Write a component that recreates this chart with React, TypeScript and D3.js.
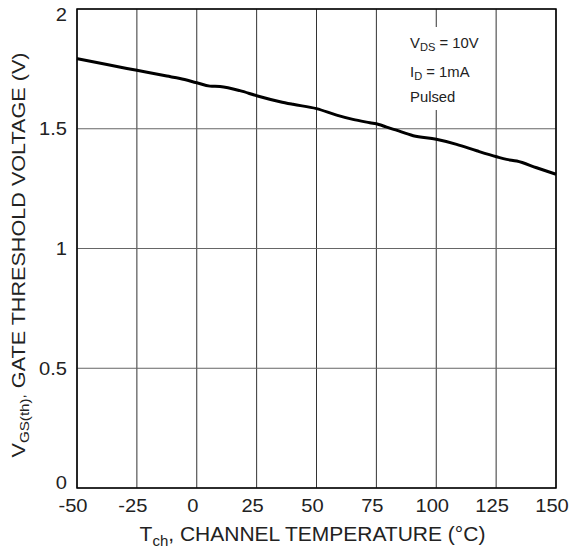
import React from "react";
import * as d3 from "d3";

const temps = [-50, -37.5, -25, -12.5, -7, 0, 5.5, 9.7, 18, 25, 34.8, 40.2, 50, 58.4, 65.2, 72.3, 76, 79, 83, 90.4, 100, 108.5, 116.9, 125.2, 129.4, 133.6, 141.9, 150];
const vth = [1.793, 1.768, 1.744, 1.72, 1.71, 1.692, 1.678, 1.676, 1.659, 1.638, 1.613, 1.602, 1.584, 1.557, 1.539, 1.525, 1.518, 1.508, 1.495, 1.471, 1.456, 1.435, 1.408, 1.383, 1.372, 1.365, 1.337, 1.31];
const xTicks = [-50, -25, 0, 25, 50, 75, 100, 125, 150];
const yTicks = [0, 0.5, 1, 1.5, 2];
const yTickLabels = ["0", "0.5", "1", "1.5", "2"];

const W = 573, H = 550;
const L = 77, R = 556, T = 9, B = 488;
const FONT = "'Liberation Sans', Arial, Helvetica, sans-serif";

export default function App() {
  const x = d3.scaleLinear().domain([-50, 150]).range([L, R]);
  const y = d3.scaleLinear().domain([0, 2]).range([B, T]);
  const data = temps.map((t, i) => [t, vth[i]] as [number, number]);
  const line = d3.line<[number, number]>().x(d => x(d[0])).y(d => y(d[1])).curve(d3.curveMonotoneX);

  return (
    <svg width={W} height={H} style={{ position: "absolute", left: 0, top: 0, background: "#fff" }} fontFamily={FONT}>
      <rect x={0} y={0} width={W} height={H} fill="#fff" />
      {xTicks.map(t => (
        <line key={"gx" + t} x1={x(t)} x2={x(t)} y1={T} y2={B} stroke="#333" strokeWidth={1} />
      ))}
      {yTicks.map(t => (
        <line key={"gy" + t} x1={L} x2={R} y1={y(t)} y2={y(t)} stroke="#666" strokeWidth={1} />
      ))}
      <rect x={398} y={27} width={90} height={83} fill="#fff" />
      <path d={line(data) || ""} fill="none" stroke="#000" strokeWidth={3} strokeLinejoin="round" />
      <rect x={L} y={T} width={R - L} height={B - T} fill="none" stroke="#000" strokeWidth={1.5} />
      {xTicks.map(t => (
        <text key={"xl" + t} transform={`translate(${x(t) - 4},511.5) scale(1.15,1)`} fontSize={17.5} textAnchor="middle" fill="#222">{t}</text>
      ))}
      {yTicks.map((t, i) => {
        const yy = Math.min(Math.max(y(t), T + 5.5), B - 5);
        return (
          <text key={"yl" + t} transform={`translate(67,${yy}) scale(1.15,1)`} dy="0.36em" fontSize={17.5} textAnchor="end" fill="#222">{yTickLabels[i]}</text>
        );
      })}
      <text x={312.5} y={541} fontSize={21} textAnchor="middle" fill="#222">
        T<tspan fontSize={15} dy={5}>ch</tspan><tspan dy={-5}>, CHANNEL TEMPERATURE (°C)</tspan>
      </text>
      <text transform={`translate(25,255) rotate(-90) scale(1.168,1)`} fontSize={18.5} textAnchor="middle" fill="#222">
        V<tspan fontSize={13} dy={4}>GS(th)</tspan><tspan fontSize={13} dy={-4}>,</tspan><tspan>  GATE THRESHOLD VOLTAGE (V)</tspan>
      </text>
      <g transform="translate(410,0) scale(1.06,1)">
        <text x={0} y={48.3} fontSize={14} fill="#222">
          V<tspan fontSize={10.5} dy={3}>DS</tspan><tspan dy={-3}> = 10V</tspan>
        </text>
        <text x={0} y={76.7} fontSize={14} fill="#222">
          I<tspan fontSize={10.5} dy={3}>D</tspan><tspan dy={-3}> = 1mA</tspan>
        </text>
        <text x={0} y={101.7} fontSize={14} fill="#222">Pulsed</text>
      </g>
    </svg>
  );
}
